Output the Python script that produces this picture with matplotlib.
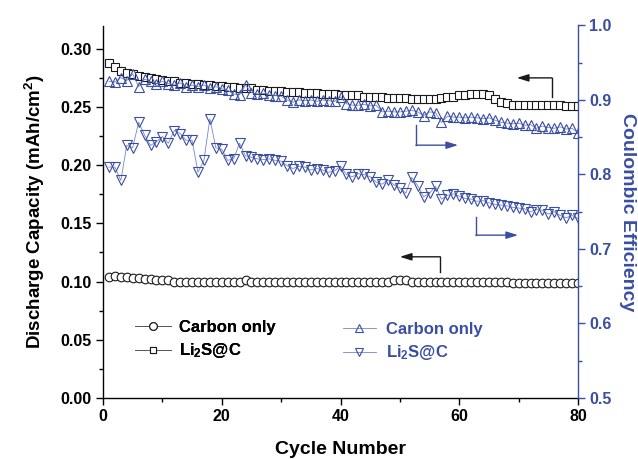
import numpy as np
import matplotlib
matplotlib.use('Agg')
import matplotlib.pyplot as plt
from matplotlib.lines import Line2D
from matplotlib.ticker import MultipleLocator

plt.rcParams['font.family'] = ['Liberation Sans', 'DejaVu Sans']
plt.rcParams['font.weight'] = 'bold'
plt.rcParams['axes.labelweight'] = 'bold'
plt.rcParams['mathtext.fontset'] = 'custom'
plt.rcParams['mathtext.rm'] = 'Liberation Sans:bold'
plt.rcParams['mathtext.bf'] = 'Liberation Sans:bold'
plt.rcParams['mathtext.default'] = 'bf'

# cycle numbers
cycles = np.arange(1, 81)

# discharge capacity (mAh/cm2), left axis
cap_carbon = [0.104, 0.105, 0.104, 0.104, 0.103, 0.103, 0.102, 0.102, 0.101, 0.101,
              0.101, 0.100, 0.100, 0.100, 0.100, 0.100, 0.100, 0.100, 0.100, 0.100,
              0.100, 0.100, 0.100, 0.101, 0.100, 0.100, 0.100, 0.100, 0.100, 0.100,
              0.100, 0.100, 0.100, 0.100, 0.100, 0.100, 0.100, 0.100, 0.100, 0.100,
              0.100, 0.100, 0.100, 0.100, 0.100, 0.100, 0.100, 0.100, 0.101, 0.101,
              0.101, 0.100, 0.100, 0.100, 0.100, 0.100, 0.100, 0.100, 0.100, 0.100,
              0.100, 0.100, 0.100, 0.100, 0.100, 0.100, 0.100, 0.100, 0.099, 0.099,
              0.099, 0.099, 0.099, 0.099, 0.099, 0.099, 0.099, 0.099, 0.099, 0.099]
cap_li2s = [0.288, 0.284, 0.281, 0.279, 0.278, 0.277, 0.276, 0.275, 0.274, 0.273,
            0.272, 0.272, 0.271, 0.271, 0.270, 0.270, 0.269, 0.269, 0.268, 0.268,
            0.267, 0.267, 0.266, 0.266, 0.266, 0.265, 0.265, 0.264, 0.264, 0.264,
            0.263, 0.263, 0.263, 0.262, 0.262, 0.262, 0.261, 0.261, 0.261, 0.260,
            0.260, 0.260, 0.260, 0.259, 0.259, 0.259, 0.259, 0.258, 0.258, 0.258,
            0.258, 0.257, 0.257, 0.257, 0.257, 0.257, 0.258, 0.259, 0.259, 0.260,
            0.260, 0.261, 0.261, 0.261, 0.260, 0.257, 0.254, 0.253, 0.252, 0.252,
            0.252, 0.252, 0.252, 0.252, 0.252, 0.252, 0.252, 0.251, 0.251, 0.251]

# coulombic efficiency, right axis
ce_carbon = [0.925, 0.924, 0.930, 0.926, 0.935, 0.918, 0.928, 0.925, 0.922, 0.925,
             0.922, 0.920, 0.923, 0.918, 0.920, 0.918, 0.920, 0.916, 0.918, 0.915,
             0.913, 0.908, 0.907, 0.920, 0.910, 0.908, 0.909, 0.907, 0.906, 0.905,
             0.900, 0.897, 0.900, 0.899, 0.900, 0.898, 0.900, 0.899, 0.898, 0.904,
             0.895, 0.893, 0.893, 0.894, 0.892, 0.893, 0.884, 0.885, 0.884, 0.884,
             0.885, 0.886, 0.884, 0.879, 0.884, 0.883, 0.870, 0.878, 0.877, 0.877,
             0.876, 0.877, 0.876, 0.875, 0.876, 0.873, 0.870, 0.869, 0.868, 0.869,
             0.866, 0.867, 0.862, 0.865, 0.863, 0.862, 0.864, 0.861, 0.862, 0.856]
ce_li2s = [0.810, 0.810, 0.792, 0.839, 0.836, 0.870, 0.853, 0.839, 0.844, 0.851,
           0.842, 0.859, 0.855, 0.846, 0.846, 0.803, 0.819, 0.875, 0.836, 0.834,
           0.819, 0.821, 0.842, 0.825, 0.823, 0.821, 0.820, 0.821, 0.819, 0.818,
           0.812, 0.808, 0.811, 0.810, 0.806, 0.808, 0.806, 0.803, 0.805, 0.811,
           0.800, 0.797, 0.801, 0.800, 0.797, 0.790, 0.787, 0.793, 0.786, 0.782,
           0.775, 0.796, 0.785, 0.770, 0.775, 0.784, 0.767, 0.772, 0.774, 0.771,
           0.768, 0.767, 0.764, 0.765, 0.762, 0.760, 0.759, 0.758, 0.756, 0.755,
           0.754, 0.750, 0.753, 0.752, 0.747, 0.750, 0.745, 0.742, 0.745, 0.741]

blue = '#3a4ea2'
blue_line = '#7686c4'
black = '#1a1a1a'

fig = plt.figure(figsize=(6.38, 4.59), dpi=100)
ax = fig.add_axes([103/638, 1-398/459, 475/638, 372.5/459])
ax2 = ax.twinx()

ax.plot(cycles, cap_carbon, '-', color='#555555', lw=0.6, marker='o', ms=6.2,
        mfc='white', mec=black, mew=0.8)
ax.plot(cycles, cap_li2s, '-', color='#555555', lw=0.6, marker='s', ms=6.0,
        mfc='white', mec=black, mew=0.8)
ax2.plot(cycles, ce_carbon, '-', color=blue_line, lw=0.6, marker='^', ms=7.2,
         mfc='none', mec=blue, mew=0.8)
ax2.plot(cycles, ce_li2s, '-', color=blue_line, lw=0.6, marker='v', ms=7.2,
         mfc='none', mec=blue, mew=0.8)

ax.set_xlim(0, 80)
ax.set_ylim(0, 0.32)
ax2.set_ylim(0.5, 1.0)

ax.xaxis.set_major_locator(MultipleLocator(20))
ax.xaxis.set_minor_locator(MultipleLocator(10))
ax.yaxis.set_major_locator(MultipleLocator(0.05))
ax.yaxis.set_minor_locator(MultipleLocator(0.025))
ax2.yaxis.set_major_locator(MultipleLocator(0.1))
ax2.yaxis.set_minor_locator(MultipleLocator(0.05))
ax.yaxis.set_major_formatter(plt.FormatStrFormatter('%.2f'))
ax2.yaxis.set_major_formatter(plt.FormatStrFormatter('%.1f'))

for a in (ax, ax2):
    a.spines['top'].set_visible(False)
ax.spines['right'].set_visible(False)
ax2.spines['left'].set_visible(False)
ax2.spines['bottom'].set_visible(False)
ax2.spines['right'].set_color(blue)
ax.spines['left'].set_linewidth(1.0)
ax.spines['bottom'].set_linewidth(1.0)
ax2.spines['right'].set_linewidth(1.0)

ax.tick_params(which='major', direction='out', length=5, width=1.0,
               labelsize=11.5, pad=3)
ax.tick_params(which='minor', direction='out', length=3, width=1.0)
ax2.tick_params(which='major', direction='out', length=5, width=1.0,
                labelsize=11.5, colors=blue, pad=3)
ax2.tick_params(which='minor', direction='out', length=3, width=1.0, colors=blue)

ax.set_xlabel('Cycle Number', fontsize=14, fontweight='bold', labelpad=12)
ax.set_ylabel('Discharge Capacity (mAh/cm$^{2}$)', fontsize=13.5,
              fontweight='bold', labelpad=10)
ax2.set_ylabel('Coulombic Efficiency', fontsize=14, fontweight='bold',
               color=blue, rotation=270, labelpad=18)

# bent arrows pointing to the axis each curve belongs to
def bent_arrow(x0, y0, x1, y1, x2, color):
    ax.plot([x0, x1], [y0, y1], color=color, lw=1.0)
    ax.annotate('', xy=(x2, y1), xytext=(x1, y1),
                arrowprops=dict(arrowstyle='-|>,head_length=0.7,head_width=0.22',
                                color=color, lw=1.0, shrinkA=0, shrinkB=0))

bent_arrow(75.6, 0.2586, 75.6, 0.2750, 69.7, black)
bent_arrow(52.7, 0.2343, 52.7, 0.2172, 59.8, blue)
bent_arrow(62.8, 0.1556, 62.8, 0.1399, 69.9, blue)
bent_arrow(56.8, 0.1084, 56.8, 0.1213, 50.0, black)

h1 = [Line2D([], [], color='#555555', lw=0.6, marker='o', ms=5.5, mfc='white', mec=black, mew=0.8),
      Line2D([], [], color='#555555', lw=0.6, marker='s', ms=5.0, mfc='white', mec=black, mew=0.8)]
h2 = [Line2D([], [], color=blue_line, lw=0.6, marker='^', ms=6.0, mfc='none', mec=blue, mew=0.8),
      Line2D([], [], color=blue_line, lw=0.6, marker='v', ms=6.0, mfc='none', mec=blue, mew=0.8)]
labels = ['Carbon only', 'Li$_{2}$S@C']

leg1 = ax.legend(h1, labels, loc='upper left', bbox_to_anchor=(128/638, 146/459),
                 bbox_transform=fig.transFigure, frameon=False, borderaxespad=0,
                 fontsize=12, handlelength=2.2, handletextpad=0.45, labelspacing=0.4)
ax.add_artist(leg1)
ax2.legend(h2, labels, loc='upper left', bbox_to_anchor=(336/638, 144/459),
           bbox_transform=fig.transFigure, frameon=False, borderaxespad=0,
           fontsize=12, handlelength=2.0, handletextpad=0.6, labelspacing=0.4,
           labelcolor=blue)

fig.savefig('out.png', dpi=100)
